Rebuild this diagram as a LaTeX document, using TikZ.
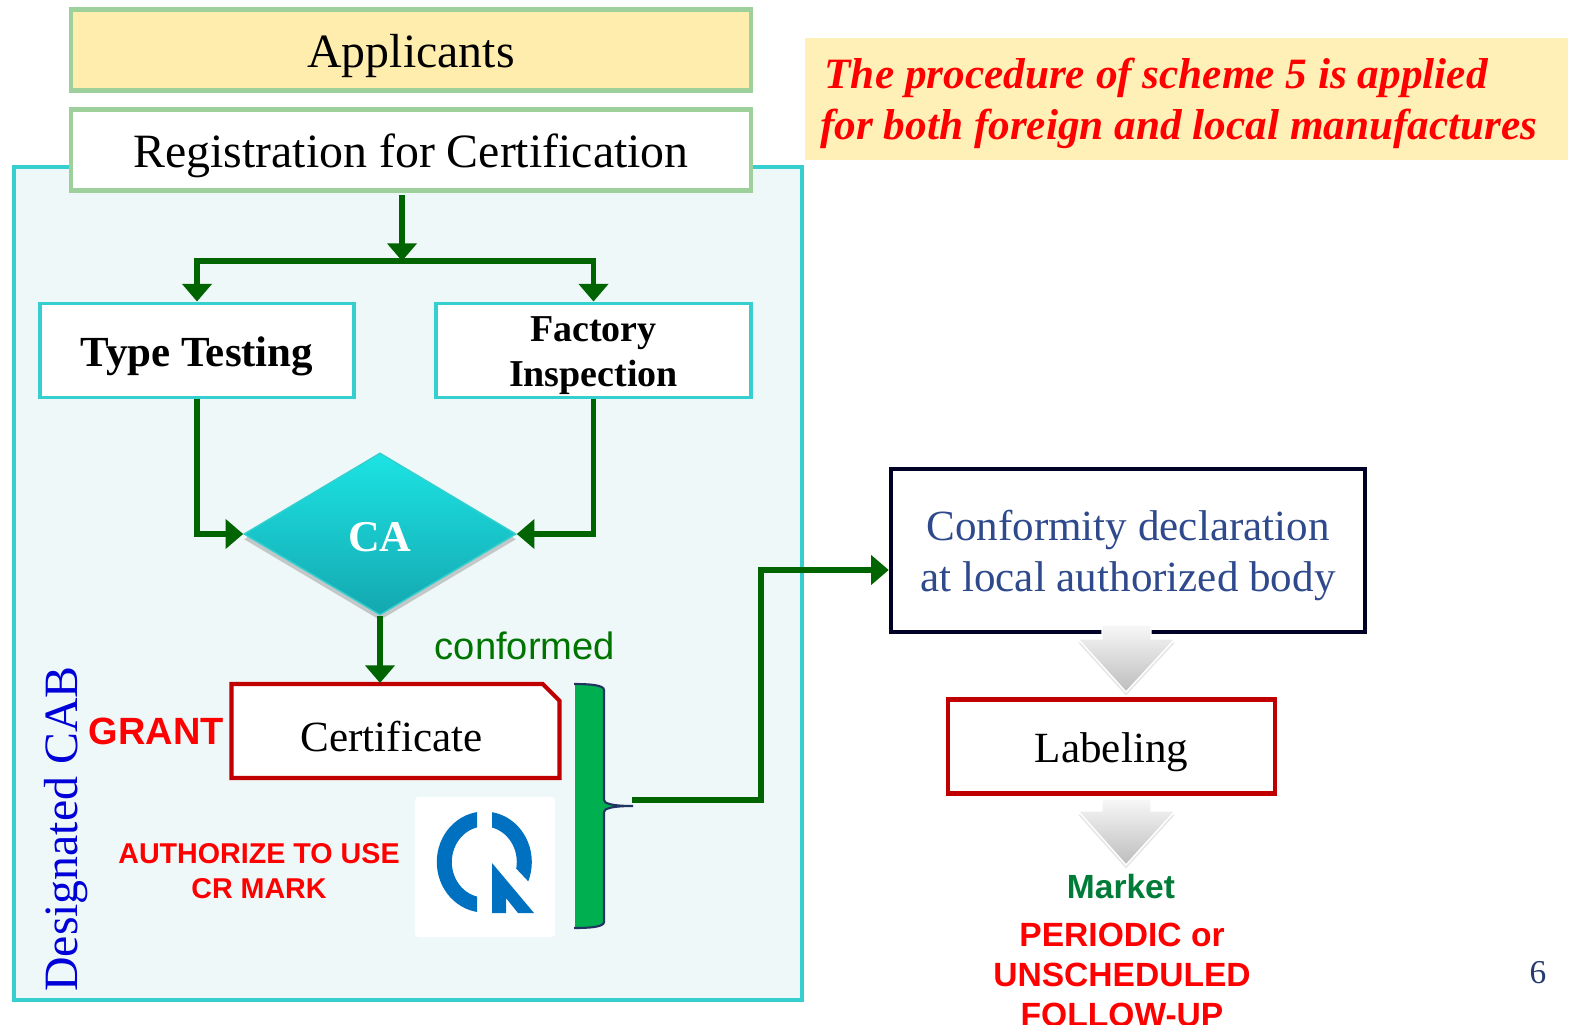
\documentclass[tikz,border=0pt]{standalone}
\usepackage{fontspec}
\setmainfont{Liberation Serif}
\setsansfont{Liberation Sans}
\usetikzlibrary{arrows.meta,shapes.geometric,shapes.misc,shadows}
\definecolor{sandfill}{HTML}{FFEDAE}
\definecolor{leafline}{HTML}{9DD09A}
\definecolor{tealline}{HTML}{35CFD0}
\definecolor{panelfill}{HTML}{EFF8F9}
\definecolor{arrowgreen}{HTML}{006400}
\definecolor{boxred}{HTML}{C00000}
\definecolor{notefill}{HTML}{FFF0B8}
\definecolor{declblue}{HTML}{2F4A8C}
\definecolor{bracefill}{HTML}{00B050}
\definecolor{markblue}{HTML}{0070C0}
\definecolor{catop}{HTML}{1CE3E3}
\definecolor{cabottom}{HTML}{14A8B0}
\newcommand{\fsz}[2][14.5]{\fontsize{#2}{#1}\selectfont}
\begin{document}
\begin{tikzpicture}
[x=0.01cm,y=-0.01cm,
  topbox/.style={draw=leafline,line width=1.2pt,minimum width=6.8cm,minimum height=0.81cm,inner sep=0pt,text height=12pt,text depth=2.2pt,font=\fsz{13.6}},
  testbox/.style={draw=tealline,fill=white,line width=1.1pt,minimum height=0.94cm,inner sep=0pt,align=center},
  redbox/.style={draw=boxred,fill=white,line width=1.2pt,minimum height=0.94cm,inner sep=0pt,font=\fsz{12.25}},
  linedecorate/.style={draw=arrowgreen,line width=1.6pt,-{Triangle[length=5pt,width=8.2pt]}},
  redlabel/.style={text=red,font={\sffamily\bfseries\fsz[10]{8.15}},align=center,inner sep=0pt},
  downarrow/.style={draw=white,line width=0.4pt,top color=white!97!black,bottom color=white!74!black,drop shadow={opacity=0.2,shadow xshift=0pt,shadow yshift=-1pt}}]
\useasboundingbox (0,0) rectangle (1570,1024);
%% panels and note
\node (panel) at (408,583.5) [draw=tealline,fill=panelfill,line width=1.1pt,minimum width=7.88cm,minimum height=8.33cm] {};
\node (note) at (1186.5,99) [fill=notefill,minimum width=7.63cm,minimum height=1.22cm,inner sep=0pt] {};
\node (notetext) at (1179,103) [text=red,align=left,inner sep=0pt,font=\fsz{12.3}\bfseries\itshape] {\hspace*{1.2pt}The procedure of scheme 5 is applied\\for both foreign and local manufactures};
%% boxes
\node (applicants) at (411,50) [topbox,fill=sandfill] {Applicants};
\node (register) at (411,150) [topbox,fill=white] {Registration for Certification};
\node (typetest) at (197,350.5) [testbox,minimum width=3.13cm,text height=10.8pt,text depth=1.9pt,font=\fsz{12.2}\bfseries] {Type Testing};
\node (factory) at (593.5,350.5) [testbox,minimum width=3.15cm,font={\fsz[12.8]{10.8}\bfseries}] {\rule{0pt}{10pt}Factory\\Inspection};
\node (ca) at (380,534) [shape=diamond,draw=tealline,line width=0.4pt,top color=catop,bottom color=cabottom,minimum width=2.72cm,minimum height=1.62cm,inner sep=0pt,drop shadow={opacity=0.4,shadow xshift=0pt,shadow yshift=-1.5pt},text=white,text height=9.8pt,text depth=0pt,font=\fsz{12.5}\bfseries] {CA};
\node (cert) at (395.5,731) [redbox,shape=chamfered rectangle,chamfered rectangle corners=north east,chamfered rectangle sep=2.4pt,minimum width=3.28cm,text height=11.6pt,text depth=0pt] {\hspace*{-2.3pt}Certificate};
\node (decl) at (1128,550.5) [draw=black!85!blue,fill=white,line width=1.2pt,minimum width=4.74cm,minimum height=1.63cm,inner sep=0pt,align=center,text=declblue,font=\fsz{12.25}] {\rule{0pt}{11.5pt}Conformity declaration\\at local authorized body};
\node (label) at (1111.5,746.5) [redbox,minimum width=3.27cm,text height=11.6pt,text depth=2.4pt] {Labeling};
%% free labels
\node (cab) at (66.5,829) [rotate=90,text=blue!85!black,inner sep=0pt,font=\fsz{13.6}] {Designated CAB};
\node (conformed) at (525,646) [text=arrowgreen!90!green,inner sep=0pt,font=\sffamily\fsz{10.85}] {conformed};
\node (grant) at (156.5,731) [redlabel,font=\sffamily\bfseries\fsz{10.8}] {GRANT};
\node (authorize) at (259,871.5) [redlabel] {AUTHORIZE TO USE\\CR MARK};
\node (market) at (1121,887) [inner sep=0pt,text=bracefill!70!black,font=\sffamily\bfseries\fsz{9.53}] {Market};
\node (followup) at (1122,975) [redlabel,font={\sffamily\bfseries\fsz[11.4]{9.55}}] {PERIODIC or\\UNSCHEDULED\\FOLLOW-UP};
\node (pagenum) at (1538,973) [inner sep=0pt,text=declblue!80!black,font=\fsz{9.5}] {6};
%% mark
\node (logo) at (485,867) [fill=white,minimum width=1.4cm,minimum height=1.4cm,rounded corners=1pt] {};
\begin{scope}
\clip (430,800) rectangle (477,930);
\draw[markblue,line width=4.27pt] (484.3,862) circle [x radius=40,y radius=43];
\end{scope}
\begin{scope}
\clip (492,800) -- (545,800) -- (545,899) -- (492,843) -- cycle;
\draw[markblue,line width=4.27pt] (484.3,862) circle [x radius=40,y radius=43];
\end{scope}
\fill[markblue] (492,863) -- (534,913) -- (518,913) -- (506,898) -- (506,913) -- (492,913) -- cycle;
%% brace
\fill[bracefill] (575,684) .. controls (590,684) and (604,685) .. (604,690) -- (604,800) .. controls (604,803) and (610,806) .. (633,806) .. controls (610,806) and (604,809) .. (604,812) -- (604,922) .. controls (604,927) and (590,928) .. (575,928) -- cycle;
\draw[draw=declblue!70!black,line width=0.6pt] (574,684) .. controls (590,684) and (604,685) .. (604,690) -- (604,800) .. controls (604,803) and (610,806) .. (633,806) .. controls (610,806) and (604,809) .. (604,812) -- (604,922) .. controls (604,927) and (590,928) .. (574,928);
%% big arrows
\foreach \topy/\shouldery/\tipy in {625/639/692, 799/811/865}
{
  \path[downarrow] (1102,\topy) -- (1151,\topy) -- (1151,\shouldery) -- (1175,\shouldery) -- (1126,\tipy) -- (1078,\shouldery) -- (1102,\shouldery) -- cycle;
}
%% edges or lines
\coordinate (split) at (402,261);
\coordinate (splittop) at (402,195);
\coordinate (bracetip) at (632,800);
\coordinate (certtop) at (380,683);
\coordinate (declin) at (decl.west |- 0,570);
\draw[linedecorate] (splittop) -- (split);
\draw[linedecorate] (ca.south) -- (certtop);
\draw[linedecorate] (bracetip) -| (761,570) -- (declin);
\path
\foreach \startnode/\endnode in {split/typetest, split/factory} {
  (\startnode) edge[linedecorate,to path={-| (\tikztotarget.north)}] (\endnode)
};
\path
\foreach \startnode/\endnode/\navigate in {typetest/ca/west, factory/ca/east} {
  (\startnode.south) edge[linedecorate,to path={|- (\tikztotarget.\navigate)}] (\endnode)
};
\end{tikzpicture}
\end{document}
